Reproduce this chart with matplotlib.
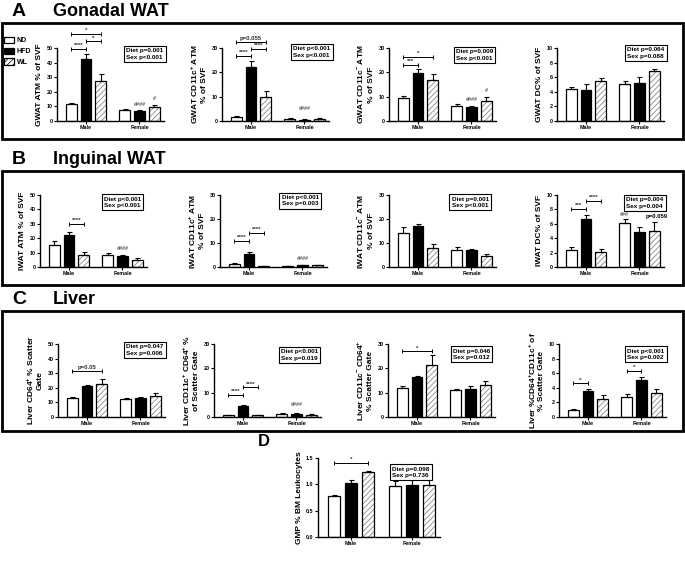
import numpy as np
import matplotlib.pyplot as plt
from matplotlib.patches import Patch, Rectangle

plt.rcParams['font.family'] = ['Liberation Sans', 'DejaVu Sans']
plt.rcParams['font.weight'] = 'bold'
plt.rcParams['axes.labelweight'] = 'bold'
plt.rcParams['mathtext.fontset'] = 'custom'
plt.rcParams['mathtext.rm'] = 'Liberation Sans:bold'
plt.rcParams['mathtext.it'] = 'Liberation Sans:bold'
plt.rcParams['mathtext.bf'] = 'Liberation Sans:bold'
plt.rcParams['hatch.linewidth'] = 0.5

diets = ['ND', 'HFD', 'WL']
sexes = ['Male', 'Female']

# mean and SEM, order: male ND, HFD, WL, female ND, HFD, WL
gwat_atm = [11.5, 42.5, 27.5, 7.5, 6.8, 9.5]
gwat_atm_sem = [0.8, 3.5, 5.0, 0.6, 0.4, 1.8]
gwat_cd11c_pos = [1.8, 22.2, 10.0, 1.0, 0.6, 0.9]
gwat_cd11c_pos_sem = [0.2, 2.3, 2.5, 0.2, 0.2, 0.2]
gwat_cd11c_neg = [9.5, 19.8, 17.0, 6.3, 5.9, 8.2]
gwat_cd11c_neg_sem = [0.8, 1.5, 2.5, 0.5, 0.3, 1.6]
gwat_dc = [4.4, 4.3, 5.5, 5.1, 5.2, 6.8]
gwat_dc_sem = [0.25, 0.8, 0.4, 0.4, 0.8, 0.35]

iwat_atm = [15.0, 22.5, 8.5, 8.5, 7.8, 5.0]
iwat_atm_sem = [3.0, 1.8, 2.0, 1.2, 0.3, 1.0]
iwat_cd11c_pos = [1.2, 5.5, 0.5, 0.5, 0.7, 0.7]
iwat_cd11c_pos_sem = [0.4, 0.8, 0.1, 0.1, 0.2, 0.1]
iwat_cd11c_neg = [14.3, 17.0, 8.0, 7.2, 7.2, 4.5]
iwat_cd11c_neg_sem = [2.2, 1.0, 1.5, 1.0, 0.3, 0.8]
iwat_dc = [2.3, 6.6, 2.1, 6.1, 4.9, 5.0]
iwat_dc_sem = [0.5, 0.6, 0.35, 0.5, 0.6, 1.3]

liver_cd64 = [13.0, 21.0, 22.5, 12.5, 13.0, 14.5]
liver_cd64_sem = [0.8, 1.0, 3.5, 0.6, 1.0, 1.8]
liver_cd11c_pos = [0.8, 4.5, 0.8, 1.3, 1.4, 1.0]
liver_cd11c_pos_sem = [0.1, 0.5, 0.1, 0.2, 0.2, 0.1]
liver_cd11c_neg = [12.0, 16.3, 21.5, 11.0, 11.5, 13.2]
liver_cd11c_neg_sem = [0.8, 0.6, 3.8, 0.7, 1.2, 1.8]
liver_dbl = [1.0, 3.5, 2.5, 2.8, 5.1, 3.3]
liver_dbl_sem = [0.1, 0.4, 0.5, 0.4, 0.4, 0.5]

gmp = [0.78, 1.02, 1.23, 0.97, 0.98, 0.98]
gmp_sem = [0.02, 0.07, 0.02, 0.10, 0.12, 0.18]

# bar positions: 3 diets per sex
xpos = np.array([0, 1, 2, 3.6, 4.6, 5.6])
bw = 0.73
W, H = 685, 561

panels = [
    # values, sem, ylabel, yticks, stats, stat pos, brackets, marks, (left, top, bottom, width) px
    dict(v=gwat_atm, e=gwat_atm_sem, yl='GWAT ATM % of SVF', yt=[0, 10, 20, 30, 40, 50],
         st='Diet p=0.001\nSex p<0.001', sp=(0.82, 0.92),
         br=[(0, 1, 49.5, '****'), (1, 2, 54.5, '*'), (0, 2, 59.5, '*')],
         mk=[(4, 11.5, '####'), (5, 15.5, '#')], r=(57, 48, 121, 107)),
    dict(v=gwat_cd11c_pos, e=gwat_cd11c_pos_sem, yl='GWAT CD11c$^{+}$ ATM\n% of SVF', yt=[0, 10, 20, 30],
         st='Diet p<0.001\nSex p<0.001', sp=(0.84, 0.945),
         br=[(0, 1, 26.7, '****'), (1, 2, 29.6, '****'), (0, 2, 32.5, 'p=0.055')],
         mk=[(4, 5.3, '####')], r=(222, 48, 121, 107)),
    dict(v=gwat_cd11c_neg, e=gwat_cd11c_neg_sem, yl='GWAT CD11c$^{-}$ ATM\n% of SVF', yt=[0, 10, 20, 30],
         st='Diet p=0.009\nSex p<0.001', sp=(0.80, 0.905),
         br=[(0, 1, 23, '***'), (0, 2, 26.3, '*')],
         mk=[(4, 9.0, '####'), (5, 12.5, '#')], r=(389, 48, 121, 107)),
    dict(v=gwat_dc, e=gwat_dc_sem, yl='GWAT DC% of SVF', yt=[0, 2, 4, 6, 8, 10],
         st='Diet p=0.064\nSex p=0.088', sp=(0.83, 0.93),
         br=[], mk=[], r=(557, 48, 121, 107)),
    dict(v=iwat_atm, e=iwat_atm_sem, yl='IWAT ATM % of SVF', yt=[0, 10, 20, 30, 40, 50],
         st='Diet p<0.001\nSex p<0.001', sp=(0.77, 0.90),
         br=[(1, 2, 30, '****')], mk=[(4, 12.5, '####')], r=(40, 195, 267, 107)),
    dict(v=iwat_cd11c_pos, e=iwat_cd11c_pos_sem, yl='IWAT CD11c$^{+}$ ATM\n% of SVF', yt=[0, 10, 20, 30],
         st='Diet p<0.001\nSex p=0.003', sp=(0.75, 0.92),
         br=[(0, 1, 10.9, '****'), (1, 2, 14.3, '****')], mk=[(4, 3.4, '####')], r=(220, 195, 267, 107)),
    dict(v=iwat_cd11c_neg, e=iwat_cd11c_neg_sem, yl='IWAT CD11c$^{-}$ ATM\n% of SVF', yt=[0, 10, 20, 30],
         st='Diet p=0.001\nSex p<0.001', sp=(0.76, 0.90),
         br=[], mk=[], r=(389, 195, 267, 107)),
    dict(v=iwat_dc, e=iwat_dc_sem, yl='IWAT DC% of SVF', yt=[0, 2, 4, 6, 8, 10],
         st='Diet p=0.004\nSex p=0.004', sp=(0.82, 0.89),
         br=[(0, 1, 8.05, '***'), (1, 2, 9.2, '****')],
         mk=[(3, 7.3, '###'), (5, 7.0, 'p=0.059')], r=(557, 195, 267, 107)),
    dict(v=liver_cd64, e=liver_cd64_sem, yl='Liver CD64$^{+}$ % Scatter\nGate', yt=[0, 10, 20, 30, 40, 50],
         st='Diet p=0.047\nSex p=0.006', sp=(0.81, 0.92),
         br=[(0, 2, 31.5, 'p=0.05')], mk=[], r=(58, 344, 417, 107)),
    dict(v=liver_cd11c_pos, e=liver_cd11c_pos_sem, yl='Liver CD11c$^{+}$ CD64$^{+}$ %\nof Scatter Gate',
         yt=[0, 10, 20, 30], st='Diet p<0.001\nSex p=0.019', sp=(0.80, 0.85),
         br=[(0, 1, 9, '****'), (1, 2, 12.2, '****')], mk=[(4, 5.0, '####')], r=(214, 344, 417, 107)),
    dict(v=liver_cd11c_neg, e=liver_cd11c_neg_sem, yl='Liver CD11c$^{-}$ CD64$^{+}$\n% Scatter Gate',
         yt=[0, 10, 20, 30], st='Diet p=0.046\nSex p=0.012', sp=(0.78, 0.86),
         br=[(0, 2, 27, '*')], mk=[], r=(388, 344, 417, 107)),
    dict(v=liver_dbl, e=liver_dbl_sem, yl='Liver %CD64$^{+}$CD11c$^{+}$ of\n% Scatter Gate',
         yt=[0, 2, 4, 6, 8, 10], st='Diet p<0.001\nSex p=0.002', sp=(0.81, 0.86),
         br=[(0, 1, 4.6, '*'), (3, 4, 6.3, '*')], mk=[], r=(559, 344, 417, 107)),
    dict(v=gmp, e=gmp_sem, yl='GMP % BM Leukocytes', yt=[0.0, 0.5, 1.0, 1.5],
         st='Diet p=0.098\nSex p=0.736', sp=(0.76, 0.82),
         br=[(0, 2, 1.40, '*')], mk=[], r=(318, 458, 537, 122)),
]

fig = plt.figure(figsize=(W / 100, H / 100), dpi=100)

for p in panels:
    left, top, bottom, width = p['r']
    ax = fig.add_axes([left / W, 1 - bottom / H, width / W, (bottom - top) / H])
    v = np.array(p['v'])
    e = np.array(p['e'])

    ax.bar(xpos[[0, 3]], v[[0, 3]], bw, color='white', edgecolor='k', lw=0.9, zorder=2)
    ax.bar(xpos[[1, 4]], v[[1, 4]], bw, color='black', edgecolor='k', lw=0.9, zorder=2)
    # hatched WL bars: grey hatch, black outline on top
    ax.bar(xpos[[2, 5]], v[[2, 5]], bw, color='white', edgecolor='0.45', hatch='//////', lw=0, zorder=2)
    ax.bar(xpos[[2, 5]], v[[2, 5]], bw, fill=False, edgecolor='k', lw=0.9, zorder=3)
    ax.errorbar(xpos, v, yerr=[np.zeros_like(e), e], fmt='none', ecolor='k',
                elinewidth=0.8, capsize=1.8, capthick=0.8, zorder=4)

    yt = p['yt']
    ax.set_ylim(0, yt[-1])
    ax.set_yticks(yt)
    if yt[-1] < 2:
        ax.set_yticklabels([f'{t:.1f}' for t in yt])
    ax.set_xlim(-0.95, 6.25)
    ax.set_xticks([1, 4.6])
    ax.set_xticklabels(sexes)
    for s in ['top', 'right']:
        ax.spines[s].set_visible(False)
    for s in ['left', 'bottom']:
        ax.spines[s].set_linewidth(1.0)
    ax.tick_params(axis='both', length=2.2, width=0.8, labelsize=3.9, pad=1)
    ax.set_ylabel(p['yl'], fontsize=6, labelpad=2.5, multialignment='center', linespacing=1.1)

    ax.text(p['sp'][0], p['sp'][1], p['st'], transform=ax.transAxes, fontsize=4.6,
            ha='center', va='center', multialignment='left', linespacing=1.35,
            bbox=dict(boxstyle='square,pad=0.35', fc='white', ec='k', lw=0.8), zorder=5)

    for i, j, y, txt in p['br']:
        ax.plot([xpos[i], xpos[j]], [y, y], color='k', lw=0.7, clip_on=False, zorder=5)
        ax.plot([xpos[i], xpos[j]], [y, y], ls='none', marker='|', ms=3, mew=0.7,
                color='k', clip_on=False, zorder=5)
        fs = 4.3 if txt.startswith('p') else 4.5
        ax.annotate(txt, xy=((xpos[i] + xpos[j]) / 2, y), xytext=(0, 0.6),
                    textcoords='offset points', ha='center', va='bottom',
                    fontsize=fs, color='0.2', annotation_clip=False)
    for i, y, txt in p['mk']:
        fs = 4.3 if txt.startswith('p') else 4.0
        ax.text(xpos[i] + (0.15 if txt.startswith('p') else 0), y, txt, ha='center',
                va='center', fontsize=fs, color='0.35' if txt.startswith('#') else 'k',
                clip_on=False)

# panel frames
for top, bottom in [(23, 139), (171, 285), (311, 431)]:
    fig.add_artist(Rectangle((2 / W, 1 - bottom / H), 681 / W, (bottom - top) / H,
                             transform=fig.transFigure, fill=False, ec='k', lw=2))

# panel titles
for letter, title, y in [('A', 'Gonadal WAT', 11), ('B', 'Inguinal WAT', 160), ('C', 'Liver', 300)]:
    fig.text(12 / W, 1 - y / H, letter, fontsize=14, weight='bold', va='center')
    fig.text(53 / W, 1 - y / H, title, fontsize=13, weight='bold', va='center')
fig.text(258 / W, 1 - 441 / H, 'D', fontsize=12, weight='bold', va='center')

handles = [Patch(fc='white', ec='k', lw=0.9),
           Patch(fc='black', ec='k', lw=0.9),
           Patch(fc='white', ec='k', lw=0.9, hatch='//////')]
fig.legend(handles, diets, loc='upper left', bbox_to_anchor=(1 / W, 1 - 34 / H),
           frameon=False, fontsize=5.0, handlelength=1.5, handleheight=1.1,
           handletextpad=0.35, labelspacing=0.45, borderpad=0.2, borderaxespad=0.2)

fig.savefig('out.png', dpi=100)
